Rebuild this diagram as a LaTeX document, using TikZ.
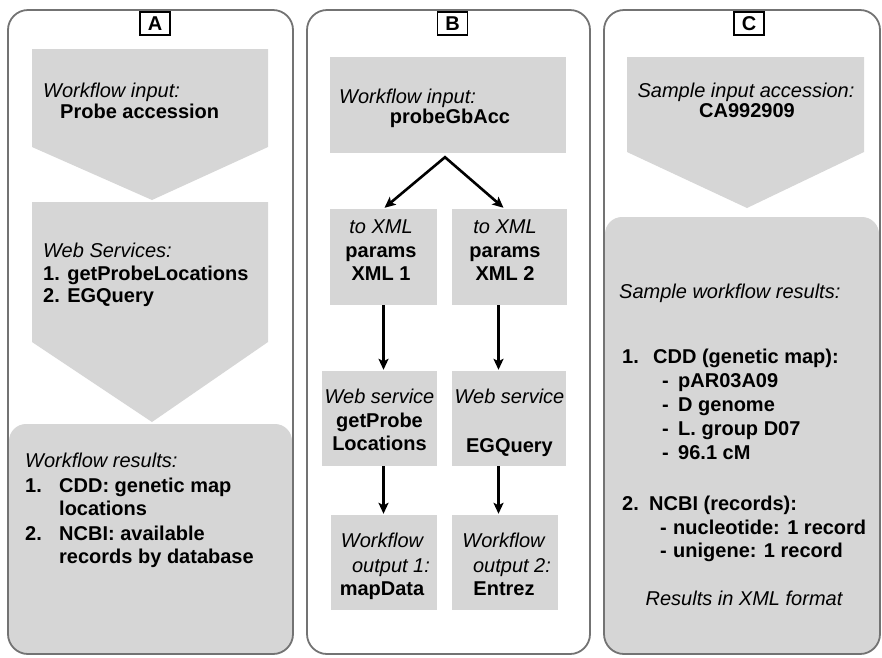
\documentclass[tikz,border=0pt]{standalone}
\usepackage{fontspec}
\setmainfont{Liberation Sans}
\usetikzlibrary{arrows.meta}
\definecolor{boxgray}{RGB}{214,214,214}
\definecolor{framegray}{RGB}{115,115,115}
\begin{document}
\begin{tikzpicture}[x=1pt,y=-1pt,
  txt/.style={inner sep=0pt,text height=14pt,text depth=4pt,font=\fontsize{20}{24}\selectfont},
  it/.style={txt,font=\fontsize{20}{24}\selectfont\itshape},
  bf/.style={txt,font=\fontsize{20}{24}\selectfont\bfseries},
  frame/.style={draw=framegray,line width=1.8pt,rounded corners=20pt},
  resultbox/.style={fill=boxgray,rounded corners=17pt},
  shade/.style={fill=boxgray},
  stepbox/.style={fill=boxgray,inner sep=0pt},
  tag/.style={draw=black,fill=white,line width=1.4pt,inner sep=0pt,minimum width=30pt,minimum height=23pt,font=\fontsize{20}{24}\selectfont\bfseries},
  tip/.tip={Stealth[length=11pt,width=10pt,inset=2.5pt]},
  arr/.style={-tip,line width=2.6pt},
  forkarr/.style={tip-tip,line width=2.6pt,line join=miter}
]
\useasboundingbox (0,0) rectangle (882,657);

% ---------- panel A ----------
\fill[resultbox] (9,424) rectangle (292,654);
\draw[frame] (8,10) rectangle (293,654);
\fill[shade] (32,49) -- (268,49) -- (268,147) -- (152,200) -- (32,147) -- cycle;
\fill[shade] (32,202) -- (268,202) -- (268,342) -- (152,422) -- (32,342) -- cycle;
\node[tag] (tagA) at (155,23.5) {A};
\node[it,anchor=west] (a1) at (43,92) {Workflow input:};
\node[bf,anchor=west] (a2) at (60,113) {Probe accession};
\node[it,anchor=west] (a3) at (43,252) {Web Services:};
\node[bf,anchor=west] (a4) at (43,275) {1. getProbeLocations};
\node[bf,anchor=west] (a5) at (43,297) {2. EGQuery};
\node[it,anchor=west] (a6) at (25,462) {Workflow results:};
\node[bf,anchor=west] (a7) at (25,487) {1.};
\node[bf,anchor=west] (a8) at (59,487) {CDD: genetic map};
\node[bf,anchor=west] (a9) at (59,510) {locations};
\node[bf,anchor=west] (a10) at (25,535) {2.};
\node[bf,anchor=west] (a11) at (59,535) {NCBI: available};
\node[bf,anchor=west] (a12) at (59,558) {records by database};

% ---------- panel B ----------
\draw[frame] (307,10) rectangle (590,654);
\node[tag] (tagB) at (452.5,23.5) {B};
\node[stepbox,minimum width=236pt,minimum height=96pt] (B0) at (448,105) {};
\node[it,anchor=west] (b0a) at (339,98) {Workflow input:};
\node[bf] (b0b) at (450,118) {probeGbAcc};

\node[stepbox,minimum width=107pt,minimum height=96pt] (B1) at (383.5,257) {};
\node[stepbox,minimum width=115pt,minimum height=96pt] (B2) at (509.5,257) {};
\node[it] (b1a) at (381,228) {to XML};
\node[bf] (b1b) at (381,252) {params};
\node[bf] (b1c) at (381,275) {XML 1};
\node[it] (b2a) at (505,228) {to XML};
\node[bf] (b2b) at (505,252) {params};
\node[bf] (b2c) at (505,275) {XML 2};

\node[stepbox,minimum width=115pt,minimum height=95pt] (W1) at (379.5,418.5) {};
\node[stepbox,minimum width=114pt,minimum height=95pt] (W2) at (509,418.5) {};
\node[it] (w1a) at (379.5,398) {Web service};
\node[bf] (w1b) at (379.5,422) {getProbe};
\node[bf] (w1c) at (379.5,445) {Locations};
\node[it] (w2a) at (509.5,398) {Web service};
\node[bf] (w2b) at (509.5,447) {EGQuery};

\node[stepbox,minimum width=106pt,minimum height=95pt] (O1) at (384,562.5) {};
\node[stepbox,minimum width=106pt,minimum height=95pt] (O2) at (505,562.5) {};
\node[it] (o1a) at (382,542) {Workflow};
\node[it] (o1b) at (391,567) {output 1:};
\node[bf] (o1c) at (382,590) {mapData};
\node[it] (o2a) at (503.5,542) {Workflow};
\node[it] (o2b) at (512,567) {output 2:};
\node[bf] (o2c) at (504,590) {Entrez};

% the input splits into the two branches from one point under its box
\coordinate (fork) at ([xshift=-3pt,yshift=-4pt]B0.south);
\draw[forkarr] ([xshift=1pt,yshift=1pt]B1.north) -- (fork) -- ([xshift=-6pt,yshift=1pt]B2.north);
\draw[arr] (B1.south) -- ([yshift=1pt]B1.south |- W1.north);
\draw[arr] ([xshift=-11pt]B2.south) -- ([xshift=-11pt,yshift=1pt]B2.south |- W2.north);
\draw[arr] ([xshift=4pt]W1.south) -- ([xshift=4pt,yshift=1pt]W1.south |- O1.north);
\draw[arr] ([xshift=-10.5pt]W2.south) -- ([xshift=-10.5pt,yshift=1pt]W2.south |- O2.north);

% ---------- panel C ----------
\fill[resultbox] (605,217) rectangle (879,654);
\draw[frame] (604,10) rectangle (880,654);
\fill[shade] (627,57) -- (864,57) -- (864,152) -- (747,208) -- (627,152) -- cycle;
\node[tag] (tagC) at (749,23.5) {C};
\node[it] (c1) at (746,92) {Sample input accession:};
\node[bf] (c2) at (747,112) {CA992909};
\node[it,anchor=west] (c3) at (619,293) {Sample workflow results:};
\node[bf,anchor=west] (c4) at (622,358) {1.};
\node[bf,anchor=west] (c5) at (653,358) {CDD (genetic map):};
\node[bf,anchor=west] (c6) at (662,382) {-};
\node[bf,anchor=west] (c7) at (678,382) {pAR03A09};
\node[bf,anchor=west] (c8) at (662,406) {-};
\node[bf,anchor=west] (c9) at (678,406) {D genome};
\node[bf,anchor=west] (c10) at (662,430) {-};
\node[bf,anchor=west] (c11) at (678,430) {L. group D07};
\node[bf,anchor=west] (c12) at (662,454) {-};
\node[bf,anchor=west] (c13) at (678,454) {96.1 cM};
\node[bf,anchor=west] (c14) at (622,505) {2.};
\node[bf,anchor=west] (c15) at (649,505) {NCBI (records):};
\node[bf,anchor=west] (c16) at (660,529) {-};
\node[bf,anchor=west] (c17) at (673,529) {nucleotide: 1 record};
\node[bf,anchor=west] (c18) at (660,552) {-};
\node[bf,anchor=west] (c19) at (673,552) {unigene: 1 record};
\node[it] (c20) at (744,600) {Results in XML format};
\end{tikzpicture}
\end{document}
